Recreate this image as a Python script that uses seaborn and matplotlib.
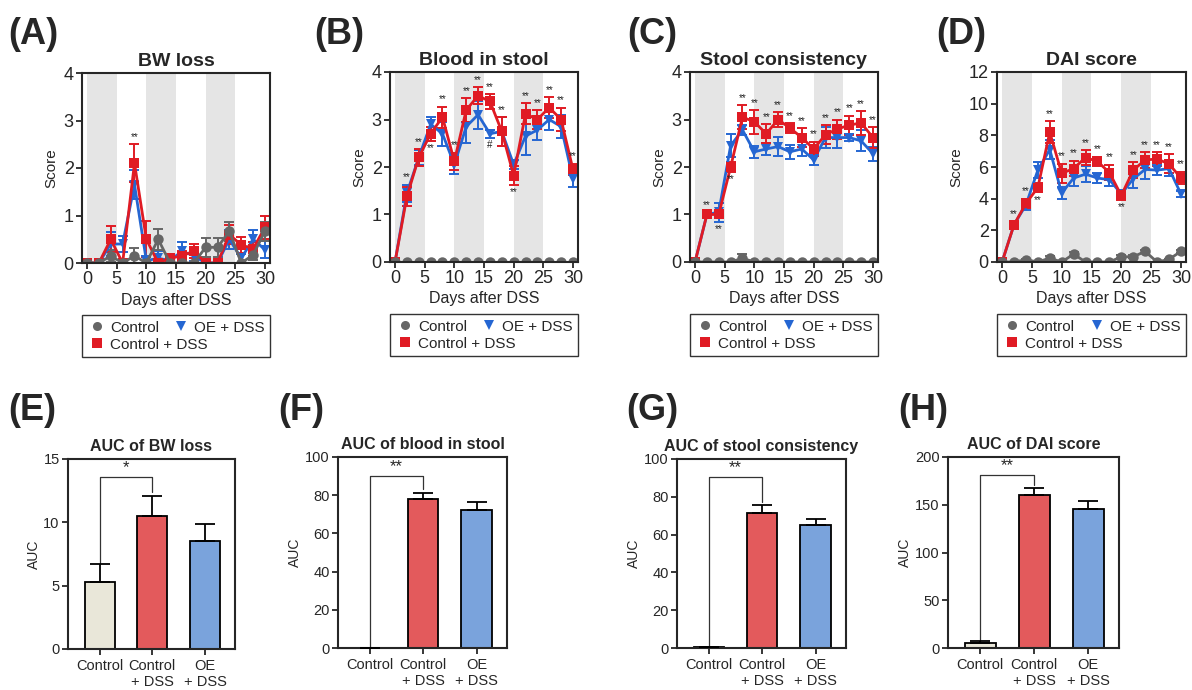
import numpy as np
import pandas as pd
import matplotlib
matplotlib.use("Agg")
import matplotlib.pyplot as plt
import seaborn as sns
from matplotlib.lines import Line2D

# ---------------- data ----------------
days = np.arange(0, 31, 2)

# (A) BW loss
bw_ctrl = [0, 0, 0.15, 0, 0.15, 0, 0.5, 0, 0, 0, 0.33, 0.33, 0.67, 0, 0.17, 0.67]
bw_ctrl_err = [0, 0, 0.12, 0, 0.17, 0, 0.22, 0, 0, 0, 0.2, 0.2, 0.2, 0, 0.1, 0.2]
bw_dss = [0, 0, 0.5, 0, 2.1, 0.5, 0, 0.1, 0.15, 0.25, 0, 0, 0.6, 0.38, 0.3, 0.75]
bw_dss_err = [0, 0, 0.27, 0, 0.4, 0.38, 0, 0.1, 0.1, 0.15, 0, 0, 0.2, 0.17, 0.15, 0.25]
bw_oe = [0, 0, 0.4, 0.4, 1.65, 0.05, 0.1, 0.05, 0.25, 0.15, 0, 0, 0.5, 0.1, 0.5, 0.28]
bw_oe_err = [0, 0, 0.25, 0.17, 0.3, 0.1, 0.15, 0.05, 0.2, 0.1, 0, 0, 0.2, 0.1, 0.2, 0.18]

# (B) Blood in stool
bl_ctrl = [0] * 16
bl_ctrl_err = [0] * 16
bl_dss = [0, 1.38, 2.2, 2.7, 3.05, 2.12, 3.2, 3.5, 3.38, 2.75, 1.82, 3.12, 3.0, 3.25, 3.0, 1.95]
bl_dss_err = [0, 0.2, 0.18, 0.15, 0.22, 0.18, 0.25, 0.18, 0.15, 0.3, 0.2, 0.22, 0.2, 0.22, 0.25, 0.12]
bl_oe = [0, 1.45, 2.2, 2.9, 2.7, 2.05, 2.85, 3.1, 2.7, 2.75, 2.05, 2.65, 2.78, 3.0, 2.85, 1.75]
bl_oe_err = [0, 0.18, 0.15, 0.15, 0.25, 0.2, 0.35, 0.3, 0.08, 0.3, 0.1, 0.4, 0.22, 0.22, 0.25, 0.18]

# (C) Stool consistency
st_ctrl = [0, 0, 0, 0, 0.08, 0, 0, 0, 0, 0, 0, 0, 0, 0, 0, 0]
st_ctrl_err = [0, 0, 0, 0, 0.08, 0, 0, 0, 0, 0, 0, 0, 0, 0, 0, 0]
st_dss = [0, 1.0, 1.0, 2.0, 3.05, 2.95, 2.7, 3.0, 2.82, 2.62, 2.38, 2.68, 2.8, 2.88, 2.93, 2.62]
st_dss_err = [0, 0.05, 0.05, 0.1, 0.25, 0.25, 0.2, 0.15, 0.1, 0.2, 0.15, 0.2, 0.2, 0.2, 0.25, 0.22]
st_oe = [0, 1.0, 1.05, 2.45, 2.78, 2.32, 2.38, 2.43, 2.32, 2.38, 2.15, 2.62, 2.62, 2.62, 2.55, 2.28]
st_oe_err = [0, 0.05, 0.2, 0.25, 0.1, 0.12, 0.12, 0.2, 0.15, 0.15, 0.1, 0.22, 0.22, 0.08, 0.22, 0.15]

# (D) DAI score
dai_ctrl = [0, 0, 0.15, 0, 0.25, 0, 0.5, 0, 0, 0, 0.33, 0.33, 0.67, 0, 0.17, 0.67]
dai_ctrl_err = [0, 0, 0.05, 0, 0.1, 0, 0.1, 0, 0, 0, 0.1, 0.1, 0.1, 0, 0.05, 0.1]
dai_dss = [0, 2.35, 3.7, 4.7, 8.2, 5.6, 5.9, 6.6, 6.35, 5.65, 4.2, 5.8, 6.45, 6.5, 6.2, 5.3]
dai_dss_err = [0, 0.2, 0.3, 0.3, 0.7, 0.6, 0.5, 0.45, 0.3, 0.5, 0.3, 0.5, 0.5, 0.45, 0.6, 0.4]
dai_oe = [0, 2.35, 3.6, 5.8, 7.1, 4.35, 5.3, 5.55, 5.3, 5.2, 4.3, 5.25, 5.85, 5.8, 5.9, 4.3]
dai_oe_err = [0, 0.2, 0.3, 0.5, 0.6, 0.4, 0.5, 0.5, 0.3, 0.4, 0.2, 0.6, 0.6, 0.3, 0.5, 0.2]

# significance marks (days)
bw_sig_above, bw_sig_below = [8], []
bl_sig_above, bl_sig_below = [2, 4, 8, 10, 12, 14, 16, 18, 22, 24, 26, 28, 30], [6, 20]
st_sig_above, st_sig_below = [2, 8, 10, 12, 14, 16, 18, 20, 22, 24, 26, 28, 30], [4, 6]
dai_sig_above, dai_sig_below = [2, 4, 8, 10, 12, 14, 16, 18, 22, 24, 26, 28, 30], [6, 20]
bl_hash_below = [16]

# AUC bars
bar_groups = ["Control", "Control\n+ DSS", "OE\n+ DSS"]
auc_bw = [5.3, 10.5, 8.5]
auc_bw_err = [1.4, 1.55, 1.35]
auc_bl = [0, 78, 72.5]
auc_bl_err = [0, 3, 4]
auc_st = [0.3, 71.5, 65]
auc_st_err = [0.3, 4, 3.5]
auc_dai = [5, 160, 146]
auc_dai_err = [2, 8, 8]

# ---------------- style ----------------
sns.set_style("ticks")
plt.rcParams['font.family'] = ['Liberation Sans', 'DejaVu Sans']
plt.rcParams['axes.linewidth'] = 1.5

line_colors = {"Control": "#666666", "Control + DSS": "#e01b24", "OE + DSS": "#2566d2"}
line_markers = {"Control": "o", "Control + DSS": "s", "OE + DSS": "v"}
bar_colors = ["#e9e7d9", "#e35a5c", "#7aa3dc"]

W, H = 1192, 690
fig = plt.figure(figsize=(W / 100, H / 100), dpi=100)


def px_axes(l, t, r, b):
    return fig.add_axes([l / W, 1 - b / H, (r - l) / W, (b - t) / H])


def line_panel(ax, title, series, ymax, ystep, above, below, hash_below=()):
    for lo, hi in [(0, 5), (10, 15), (20, 25)]:
        ax.axvspan(lo, hi, color='#e5e5e5', lw=0, zorder=0)
    order = ["OE + DSS", "Control + DSS", "Control"]
    df = pd.DataFrame({
        'day': np.tile(days, 3),
        'score': np.concatenate([series[g][0] for g in order]),
        'group': np.repeat(order, len(days)),
    })
    for g in order:
        ax.errorbar(days, series[g][0], yerr=series[g][1], fmt='none',
                    ecolor=line_colors[g], elinewidth=1.4, capsize=3.5, capthick=1.4, zorder=2)
    sns.lineplot(data=df, x='day', y='score', hue='group', style='group',
                 hue_order=order, style_order=order, palette=line_colors,
                 markers=line_markers, dashes=False, markersize=7.5,
                 markeredgewidth=0, linewidth=2.0, errorbar=None, legend=False, ax=ax)

    dss, dss_e = np.array(series["Control + DSS"][0]), np.array(series["Control + DSS"][1])
    oe, oe_e = np.array(series["OE + DSS"][0]), np.array(series["OE + DSS"][1])
    off = ymax * 0.012
    for d in above:
        i = d // 2
        top = max(dss[i] + dss_e[i], oe[i] + oe_e[i])
        ax.text(d, top + off, "**", ha='center', va='bottom', fontsize=7, color='#222222')
    for d in below:
        i = d // 2
        bot = min(dss[i] - dss_e[i], oe[i] - oe_e[i])
        ax.text(d, bot - off, "**", ha='center', va='top', fontsize=7, color='#222222')
    for d in hash_below:
        i = d // 2
        ax.text(d, oe[i] - oe_e[i] - off, "#", ha='center', va='top', fontsize=7, color='#222222')

    ax.set_xlim(-0.85, 30.85)
    ax.set_ylim(0, ymax)
    ax.set_xticks(range(0, 31, 5))
    ax.set_yticks(np.arange(0, ymax + 0.01, ystep))
    ax.tick_params(labelsize=13, length=4, width=1.3, pad=2)
    ax.set_xlabel("Days after DSS", fontsize=11.5, labelpad=3)
    ax.set_ylabel("Score", fontsize=11, labelpad=4)
    ax.set_title(title, fontsize=14, fontweight='bold', pad=5)

    handles = [Line2D([], [], marker=line_markers[g], color=line_colors[g], linestyle='none',
                      markersize=6.5, markeredgewidth=0)
               for g in ["Control", "Control + DSS", "OE + DSS"]]
    leg = ax.legend(handles, ["Control", "Control + DSS", "OE + DSS"], ncol=2,
                    loc='upper left', bbox_to_anchor=(0, -0.275, 1, 0), mode='expand',
                    fontsize=11, frameon=True, fancybox=False, edgecolor='black',
                    handletextpad=0.2, handlelength=1.3, columnspacing=0.6,
                    borderpad=0.35, labelspacing=0.2, borderaxespad=0)
    leg.get_frame().set_linewidth(1.0)


def bar_panel(ax, title, vals, errs, ymax, ystep, bracket, star):
    bar_df = pd.DataFrame({'group': bar_groups, 'auc': vals})
    sns.barplot(data=bar_df, x='group', y='auc', hue='group', palette=bar_colors,
                saturation=1, legend=False, width=0.57, edgecolor='black', linewidth=1.3,
                errorbar=None, ax=ax)
    ax.errorbar(range(3), vals, yerr=[np.zeros(3), errs], fmt='none', ecolor='black',
                elinewidth=1.3, capsize=7.5, capthick=1.3, zorder=3)
    left_y, top_y, right_y = bracket
    ax.plot([0, 0, 1, 1], [left_y, top_y, top_y, right_y], color='#333333', lw=0.9)
    ax.text(0.5, top_y + ymax * 0.01, star, ha='center', va='bottom', fontsize=12)
    ax.set_xlim(-0.6, 2.57)
    ax.set_ylim(0, ymax)
    ax.set_yticks(np.arange(0, ymax + 0.01, ystep))
    ax.set_xlabel("")
    ax.set_ylabel("AUC", fontsize=10, labelpad=2)
    ax.tick_params(length=4, width=1.3, pad=3)
    ax.tick_params(axis='x', labelsize=10.5)
    ax.tick_params(axis='y', labelsize=10.5, pad=2)
    ax.set_title(title, fontsize=11.5, fontweight='bold', pad=6)


# ---------------- top row ----------------
axA = px_axes(82, 73, 270, 263)
axB = px_axes(390, 72, 578, 262)
axC = px_axes(690, 72, 878, 262)
axD = px_axes(997, 72, 1186, 262)

line_panel(axA, "BW loss",
           {"Control": (bw_ctrl, bw_ctrl_err), "Control + DSS": (bw_dss, bw_dss_err),
            "OE + DSS": (bw_oe, bw_oe_err)}, 4, 1, bw_sig_above, bw_sig_below)
line_panel(axB, "Blood in stool",
           {"Control": (bl_ctrl, bl_ctrl_err), "Control + DSS": (bl_dss, bl_dss_err),
            "OE + DSS": (bl_oe, bl_oe_err)}, 4, 1, bl_sig_above, bl_sig_below, bl_hash_below)
line_panel(axC, "Stool consistency",
           {"Control": (st_ctrl, st_ctrl_err), "Control + DSS": (st_dss, st_dss_err),
            "OE + DSS": (st_oe, st_oe_err)}, 4, 1, st_sig_above, st_sig_below)
line_panel(axD, "DAI score",
           {"Control": (dai_ctrl, dai_ctrl_err), "Control + DSS": (dai_dss, dai_dss_err),
            "OE + DSS": (dai_oe, dai_oe_err)}, 12, 2, dai_sig_above, dai_sig_below)

# ---------------- bottom row ----------------
axE = px_axes(68, 459, 235, 649)
axF = px_axes(338, 457, 507, 648)
axG = px_axes(677, 459, 846, 648)
axH = px_axes(948, 457, 1119, 648)

bar_panel(axE, "AUC of BW loss", auc_bw, auc_bw_err, 15, 5, (6.8, 13.6, 12.4), "*")
bar_panel(axF, "AUC of blood in stool", auc_bl, auc_bl_err, 100, 20, (0, 90, 83), "**")
bar_panel(axG, "AUC of stool consistency", auc_st, auc_st_err, 100, 20, (0.6, 90.5, 77), "**")
bar_panel(axH, "AUC of DAI score", auc_dai, auc_dai_err, 200, 50, (7, 181, 171), "**")

# panel letters
for letter, x, y in [("(A)", 8, 17), ("(B)", 314, 17), ("(C)", 627, 17), ("(D)", 936, 17),
                     ("(E)", 8, 393), ("(F)", 278, 393), ("(G)", 626, 393), ("(H)", 898, 393)]:
    fig.text(x / W, 1 - y / H, letter, fontsize=26, fontweight='bold', ha='left', va='top')

fig.savefig("out.png", dpi=100)
